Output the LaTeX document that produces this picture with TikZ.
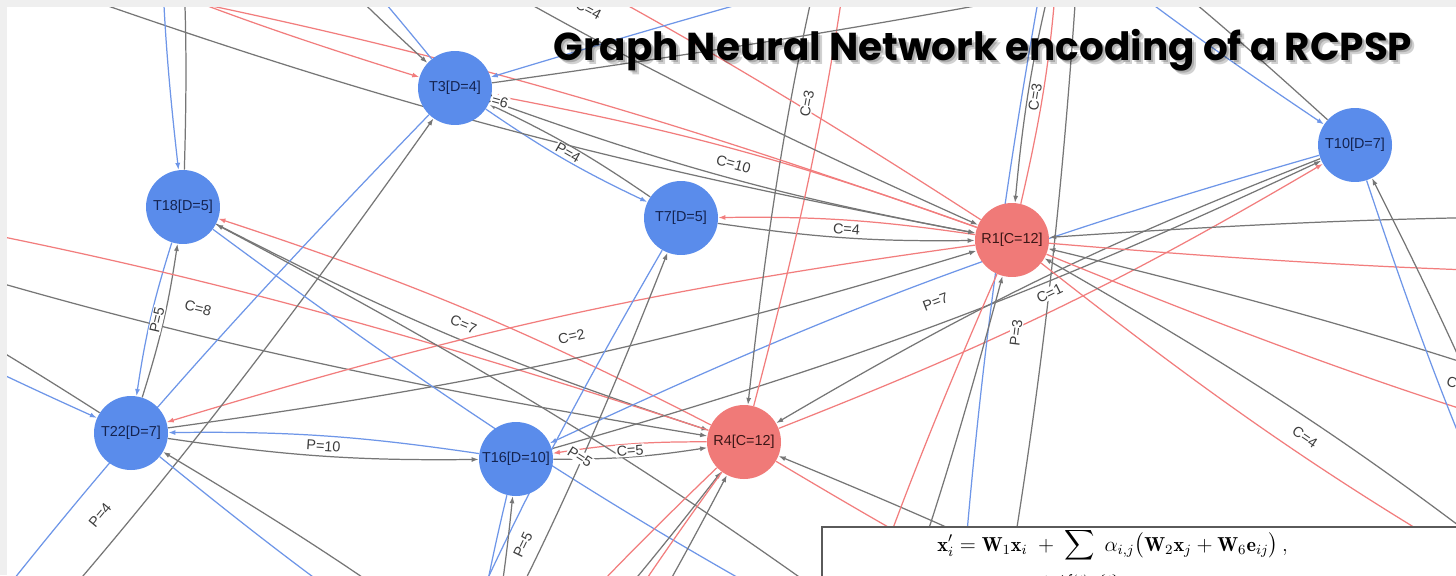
\documentclass[tikz,border=0pt]{standalone}
\usepackage{fontspec}
\usepackage{amsmath}
\usepackage{mathtools}
\usepackage{graphicx}
\newfontfamily\lblfont{Liberation Sans}
\newfontfamily\titlefont{Poppins}
\usetikzlibrary{arrows.meta}
\pgfdeclarelayer{bglayer}
\pgfdeclarelayer{edgelayer}
\pgfdeclarelayer{labellayer}
\pgfsetlayers{bglayer,edgelayer,labellayer,main}
\definecolor{nblue}{RGB}{90,140,235}
\definecolor{nred}{RGB}{240,122,120}
\definecolor{eblue}{RGB}{110,150,232}
\definecolor{ered}{RGB}{242,125,125}
\definecolor{egray}{RGB}{118,118,118}
\definecolor{bandgray}{RGB}{239,239,239}
\definecolor{tnavy}{RGB}{20,35,80}
\definecolor{tdark}{RGB}{60,22,22}
\definecolor{lbltext}{RGB}{60,60,60}
\definecolor{boxline}{RGB}{90,90,90}
\tikzset{
  ed/.style={line width=0.7pt, -{Latex[length=0.14cm,width=0.10cm]}, bend right=4.5},
  bl/.style={ed, draw=eblue},
  rd/.style={ed, draw=ered},
  gy/.style={ed, draw=egray},
  tnode/.style={circle, fill=nblue, minimum size=1.48cm, inner sep=0pt, text=tnavy, font=\lblfont\fontsize{8.2}{9}\selectfont},
  rnode/.style={tnode, fill=nred, text=tdark},
  lbl/.style={fill=white, inner sep=0.6pt, sloped, text=lbltext, font=\lblfont\fontsize{8.2}{9}\selectfont},
}
\begin{document}
\begin{tikzpicture}[x=0.02cm,y=0.02cm]
\useasboundingbox (0,0) rectangle (1456,-575);
\begin{pgfonlayer}{bglayer}
  \fill[bandgray] (0,0) rectangle (1456,-575);
  \fill[white] (7,-7) rectangle (1456,-575);
\end{pgfonlayer}

% visible nodes
\node[tnode] (T3)  at (455,-88)  {T3[D=4]};
\node[tnode] (T18) at (183,-207) {T18[D=5]};
\node[tnode] (T7)  at (681,-218) {T7[D=5]};
\node[rnode] (R1)  at (1012,-240) {R1[C=12]};
\node[tnode] (T10) at (1355,-145) {T10[D=7]};
\node[tnode] (T22) at (131,-433) {T22[D=7]};
\node[tnode] (T16) at (516,-459) {T16[D=10]};
\node[rnode] (R4)  at (744,-442) {R4[C=12]};

% nodes outside the visible area
\coordinate (N1) at (165,220);
\coordinate (N10) at (-22,40);
\coordinate (N4) at (1955,242);
\coordinate (N5) at (870,235);
\coordinate (N6) at (1058,46);
\coordinate (N7) at (1090,270);
\coordinate (N8) at (942,-936);
\coordinate (NW) at (-255,-942);
\coordinate (N13) at (2200,-250);
\coordinate (N14) at (1908,-530);
\coordinate (N15) at (1598,-634);
\coordinate (N16) at (1605,-745);
\coordinate (N17) at (631,-783);
\coordinate (N19) at (977,-707);
\coordinate (N20) at (-348,-174);
\coordinate (N22) at (465,-760);
\coordinate (NX) at (365,-872);
\coordinate (N24) at (384,-842);
\coordinate (N25) at (465,-892);
\coordinate (N26) at (1444,-792);
\coordinate (N27) at (767,-940);
\coordinate (N28) at (-100,130);

\begin{pgfonlayer}{edgelayer}
\begin{scope}
\clip (7,-7) rectangle (1456,-575);
\draw[bl] (T16) to (T22); \draw[gy] (T22) to (T16);
\draw[rd] (R4) to (T16);  \draw[gy] (T16) to (R4);
\draw[bl] (T3) to (T7);   \draw[gy] (T7) to (T3);
\draw[rd] (R1) to (T3);   \draw[gy] (T3) to (R1);
\draw[rd] (R1) to (T7);   \draw[gy] (T7) to (R1);
\draw[rd] (R4) to (T18);  \draw[gy] (T18) to (R4);
\draw[bl] (T18) to (T22); \draw[gy] (T22) to (T18);
\draw[rd] (R4) to (N20);  \draw[gy] (N20) to (R4);
\draw[rd] (R1) to (T22);  \draw[gy] (T22) to (R1);
\draw[bl] (T10) to (T16); \draw[gy] (T16) to (T10);
\draw[rd] (R4) to (T10);  \draw[gy] (T10) to (R4);
\draw[rd] (R4) to (N5);   \draw[gy] (N5) to (R4);
\draw[rd] (R1) to (N6);   \draw[gy] (N6) to (R1);
\draw[bl] (N7) to (N8);   \draw[gy] (N8) to (N7);
\draw[rd] (R1) to (N15);  \draw[gy] (N15) to (R1);
\draw[rd] (R1) to (N14);  \draw[gy] (N14) to (R1);
\draw[rd] (R1) to (N1);   \draw[gy] (N1) to (R1);
\draw[rd] (R1) to (N10);  \draw[gy] (N10) to (R1);
\draw[bl] (T3) to (NW);   \draw[gy] (NW) to (T3);
\draw[bl] (T18) to (N19); \draw[gy] (N19) to (T18);
\draw[bl] (T7) to (NX);   \draw[gy] (NX) to (T7);
\draw[bl] (N1) to (T18);  \draw[gy] (T18) to (N1);
\draw[bl] (T3) to (N1);   \draw[gy] (N1) to (T3);
\draw[bl] (N4) to (T3);   \draw[gy] (T3) to (N4);
\draw[bl] (N5) to (T10);  \draw[gy] (T10) to (N5);
\draw[rd] (R1) to (N13);  \draw[gy] (N13) to (R1);
\draw[bl] (T10) to (N16); \draw[gy] (N16) to (T10);
\draw[bl] (N20) to (T22); \draw[gy] (T22) to (N20);
\draw[bl] (T22) to (N17); \draw[gy] (N17) to (T22);
\draw[bl] (T16) to (N22); \draw[gy] (N22) to (T16);
\draw[rd] (R4) to (N24);  \draw[gy] (N24) to (R4);
\draw[rd] (R4) to (N25);  \draw[gy] (N25) to (R4);
\draw[rd] (R4) to (N26);  \draw[gy] (N26) to (R4);
\draw[rd] (R1) to (N27);  \draw[gy] (N27) to (R1);
\draw[rd] (N28) to (T3);
\end{scope}
\end{pgfonlayer}

\begin{pgfonlayer}{labellayer}
\begin{scope}
\clip (7,-7) rectangle (1456,-575);
\path (T22.center) -- node[lbl]{P=10} (T16.center);
\path (T16.center) -- node[lbl]{C=5} (R4.center);
\path (T3.center) -- node[lbl]{P=4} (T7.center);
\path (T3.center) -- node[lbl]{C=10} (R1.center);
\path (T7.center) -- node[lbl]{C=4} (R1.center);
\path (T18.center) -- node[lbl]{C=7} (R4.center);
\path (T22.center) -- node[lbl]{P=5} (T18.center);
\path (N20) -- node[lbl]{C=8} (R4.center);
\path (T22.center) -- node[lbl]{C=2} (R1.center);
\path (T16.center) -- node[lbl]{P=7} (T10.center);
\path (R4.center) -- node[lbl]{C=1} (T10.center);
\path (R4.center) -- node[lbl]{C=3} (N5);
\path (R1.center) -- node[lbl]{C=3} (N6);
\path (N8) -- node[lbl]{P=3} (N7);
\path (R1.center) -- node[lbl]{C=4} (N15);
\path (R1.center) -- node[lbl]{C=2} (N14);
\path (N1) -- node[lbl]{C=4} (R1.center);
\path (N10) -- node[lbl]{C=6} (R1.center);
\path (NW) -- node[lbl]{P=4} (T3.center);
\path (T18.center) -- node[lbl]{P=5} (N19);
\path (NX) -- node[lbl]{P=5} (T7.center);
\end{scope}
\end{pgfonlayer}

% title with soft shadow
\node[anchor=base west, inner sep=0pt, text=black, opacity=0.18] (tshadowa) at (557,-64)
  {\resizebox{17.18cm}{!}{\titlefont\bfseries Graph Neural Network encoding of a RCPSP}};
\node[anchor=base west, inner sep=0pt, text=black, opacity=0.18] (tshadowb) at (555,-62)
  {\resizebox{17.18cm}{!}{\titlefont\bfseries Graph Neural Network encoding of a RCPSP}};
\node[anchor=base west, inner sep=0pt, text=black] (title) at (553,-60)
  {\resizebox{17.18cm}{!}{\titlefont\bfseries Graph Neural Network encoding of a RCPSP}};

% formula box
\begin{scope}
\clip (0,0) rectangle (1456,-575);
\draw[boxline, line width=0.8pt, fill=white] (822,-527) rectangle (1500,-640);
\node[anchor=base west, inner sep=0pt] (formula) at (937,-551)
  {\fontsize{11.5}{14}\selectfont $\displaystyle \mathbf{x}'_i = \mathbf{W}_1\mathbf{x}_i \;+\; \sum\limits_{\mathclap{\rule{0pt}{11pt}j \in \mathcal{N}(i) \cup \{ i \}}}\; \alpha_{i,j}\bigl(\mathbf{W}_2\mathbf{x}_j + \mathbf{W}_6\mathbf{e}_{ij}\bigr)\,,$};
\end{scope}
\end{tikzpicture}
\end{document}
